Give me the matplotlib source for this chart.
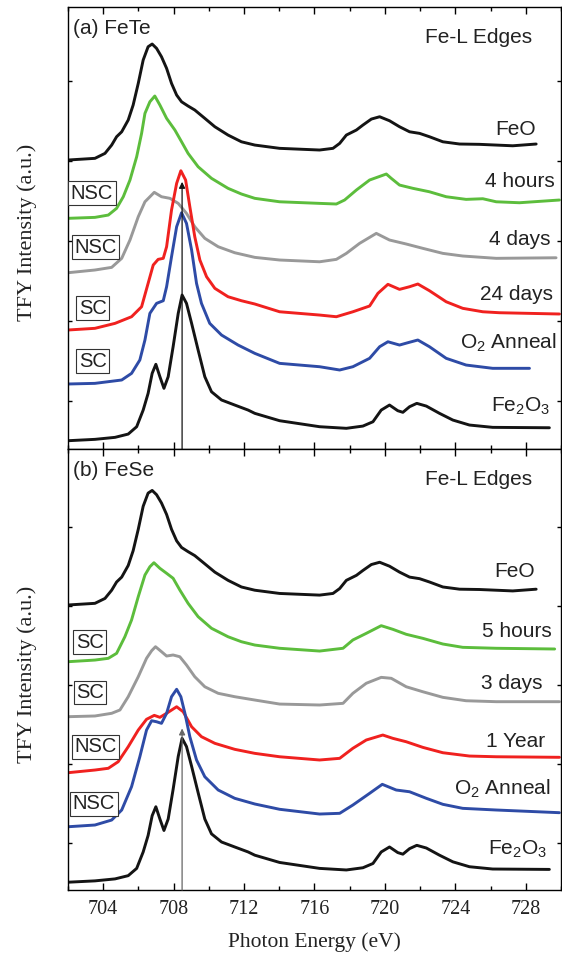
import matplotlib
matplotlib.use("Agg")
import matplotlib.pyplot as plt
from matplotlib.ticker import MultipleLocator, NullFormatter

# reference spectra (same in both panels)
feo_x = [702.00, 703.53, 704.10, 704.48, 704.76, 705.05, 705.42, 705.70, 705.99, 706.27,
         706.55, 706.78, 707.03, 707.31, 707.60, 707.88, 708.17, 708.45, 708.82, 709.20,
         709.77, 710.34, 711.09, 711.85, 712.61, 714.02, 716.29, 717.05, 717.43, 717.81,
         718.38, 718.75, 719.23, 719.70, 720.26, 720.83, 721.40, 721.97, 722.53, 723.29,
         724.24, 725.37, 727.26, 728.59]
feo_y = [30.13, 30.34, 30.96, 32.0, 33.04, 33.66, 35.13, 37.0, 39.71, 42.63,
         44.29, 44.63, 44.09, 43.04, 41.59, 39.71, 38.25, 37.41, 36.88, 36.38,
         35.34, 34.29, 33.25, 32.41, 32.0, 31.59, 31.38, 31.59, 32.21, 33.25,
         33.88, 34.5, 35.25, 35.54, 35.04, 34.29, 33.66, 33.46, 33.04, 32.41,
         32.13, 32.09, 31.91, 32.13]

fe2o3_x = [702.00, 703.53, 704.67, 705.42, 705.90, 706.27, 706.55, 706.78, 706.99, 707.22,
           707.45, 707.69, 707.97, 708.26, 708.48, 708.73, 709.02, 709.39, 709.77, 710.15,
           710.72, 711.47, 712.23, 712.61, 714.02, 716.29, 717.81, 718.75, 719.32, 719.79,
           720.26, 720.73, 721.02, 721.40, 721.81, 722.35, 723.10, 723.86, 724.80, 726.12,
           729.34]
fe2o3_y = [-4.96, -4.79, -4.54, -4.13, -3.21, -1.13, 0.96, 3.46, 4.59, 3.04,
           1.59, 3.04, 6.79, 10.96, 13.25, 12.21, 9.71, 6.38, 3.04, 1.16,
           0.13, -0.5, -1.13, -1.54, -2.46, -3.21, -3.41, -3.13, -2.59, -1.13,
           -0.5, -1.21, -1.41, -0.71, -0.29, -0.63, -1.54, -2.38, -3.0, -3.29,
           -3.34]

# (a) FeTe
a_4h_x = [702.00, 703.53, 704.29, 704.76, 705.14, 705.52, 705.90, 706.18, 706.37, 706.65,
          706.93, 707.22, 707.60, 708.07, 708.45, 708.82, 709.39, 710.15, 711.09, 711.85,
          712.61, 714.02, 716.29, 717.24, 717.71, 718.38, 719.13, 720.08, 720.36, 720.83,
          721.59, 722.53, 723.48, 724.61, 725.56, 726.32, 727.64, 729.91]
a_4h_y = [22.84, 22.96, 23.25, 24.09, 25.54, 27.63, 30.54, 33.46, 35.96, 37.41,
          38.13, 37.0, 35.34, 33.88, 32.41, 30.96, 29.29, 27.84, 26.59, 25.88,
          25.34, 24.91, 24.71, 24.63, 25.13, 26.38, 27.63, 28.38, 27.84, 27.0,
          26.59, 26.16, 25.54, 25.21, 25.29, 24.91, 24.79, 25.13]

a_4d_x = [702.00, 703.53, 704.48, 705.05, 705.52, 705.99, 706.37, 706.90, 707.31, 707.79,
          708.26, 708.73, 709.20, 709.77, 710.53, 711.47, 712.61, 714.02, 716.29, 717.24,
          717.81, 718.56, 719.51, 720.26, 721.21, 722.15, 723.29, 724.42, 726.32, 729.72]
a_4d_y = [16.04, 16.38, 16.71, 17.84, 20.13, 23.04, 24.91, 26.09, 25.54, 25.34,
          24.71, 23.46, 21.79, 20.34, 19.29, 18.54, 17.96, 17.63, 17.41, 17.71,
          18.46, 19.71, 20.96, 20.13, 19.63, 19.09, 18.46, 18.13, 17.84, 17.91]

a_24d_x = [702.00, 703.53, 704.67, 705.61, 706.18, 706.55, 706.84, 707.12, 707.41, 707.60,
           707.88, 708.17, 708.41, 708.68, 708.92, 709.20, 709.49, 709.87, 710.34, 711.09,
           711.85, 712.61, 714.02, 716.29, 717.24, 718.18, 719.13, 719.60, 720.17, 720.83,
           721.40, 721.87, 722.53, 723.48, 724.42, 725.56, 726.50, 729.91]
a_24d_y = [8.88, 9.09, 9.71, 10.54, 11.79, 14.71, 17.0, 17.71, 17.84, 19.29,
           23.88, 27.21, 28.79, 27.63, 24.29, 20.54, 17.63, 15.54, 14.09, 13.04,
           12.54, 12.13, 11.16, 10.75, 10.54, 11.16, 11.88, 13.46, 14.59, 13.96,
           14.29, 14.63, 13.79, 12.41, 11.59, 11.16, 11.04, 10.88]

a_o2_x = [702.00, 703.53, 705.05, 705.61, 706.08, 706.37, 706.65, 707.03, 707.41, 707.60,
          707.88, 708.17, 708.45, 708.73, 709.02, 709.30, 709.58, 710.05, 710.72, 711.66,
          712.61, 714.02, 716.29, 717.43, 718.18, 719.13, 719.70, 720.17, 720.83, 721.30,
          721.87, 722.53, 723.48, 724.61, 726.12, 728.21]
a_o2_y = [2.13, 2.21, 2.63, 3.46, 5.13, 7.63, 10.96, 12.21, 12.54, 14.29,
          18.04, 21.79, 23.54, 22.21, 18.88, 14.71, 12.21, 9.71, 8.25, 7.0,
          5.96, 4.71, 4.29, 3.88, 4.29, 5.34, 6.79, 7.41, 7.0, 7.29,
          7.63, 6.79, 5.34, 4.5, 4.09, 4.09]

# (b) FeSe
b_5h_x = [702.00, 703.53, 704.29, 704.76, 705.23, 705.61, 705.99, 706.37, 706.65, 706.88,
          707.22, 707.60, 707.97, 708.35, 708.82, 709.39, 710.15, 711.09, 711.85, 712.61,
          714.02, 716.29, 717.62, 718.18, 718.94, 719.79, 720.45, 721.21, 722.15, 723.29,
          724.42, 726.32, 729.64]
b_5h_y = [22.95, 23.16, 23.38, 24.01, 26.11, 28.23, 31.18, 33.92, 34.97, 35.48,
          34.77, 34.14, 33.51, 32.03, 30.34, 28.65, 27.18, 26.11, 25.48, 25.06,
          24.65, 24.30, 24.65, 25.70, 26.54, 27.51, 27.05, 26.42, 25.91, 25.19,
          24.77, 24.65, 24.56]

b_3d_x = [702.00, 703.53, 704.48, 704.95, 705.42, 705.99, 706.46, 706.75, 706.97, 707.31,
          707.60, 707.97, 708.35, 708.73, 709.20, 709.77, 710.53, 711.47, 712.61, 714.02,
          716.29, 717.62, 718.18, 718.94, 719.79, 720.36, 721.21, 722.15, 723.29, 724.61,
          726.32, 729.91]
b_3d_y = [15.99, 16.08, 16.42, 16.84, 18.52, 21.05, 23.38, 24.34, 24.85, 24.22,
          23.67, 23.80, 23.58, 22.53, 21.05, 19.78, 18.95, 18.52, 18.10, 17.59,
          17.47, 17.68, 18.95, 20.22, 20.97, 20.85, 19.78, 19.15, 18.44, 18.01,
          17.89, 17.89]

b_1y_x = [702.00, 703.53, 704.29, 704.85, 705.42, 705.99, 706.46, 706.90, 707.22, 707.60,
          708.17, 708.54, 709.02, 709.58, 710.34, 711.47, 712.61, 714.02, 716.29, 717.43,
          718.18, 718.94, 719.88, 720.45, 721.21, 722.15, 723.29, 724.80, 726.32, 729.91]
b_1y_y = [8.90, 9.24, 9.46, 10.29, 12.19, 14.30, 15.66, 16.16, 15.91, 16.42,
          17.25, 16.62, 14.72, 13.46, 12.62, 11.86, 11.35, 10.92, 10.51, 10.72,
          11.99, 13.04, 13.67, 13.25, 12.82, 12.11, 11.43, 11.01, 10.92, 10.85]

b_o2_x = [702.00, 703.53, 704.48, 705.05, 705.61, 706.08, 706.46, 706.75, 707.03, 707.31,
          707.60, 707.88, 708.17, 708.41, 708.64, 708.92, 709.30, 709.77, 710.53, 711.47,
          712.61, 714.02, 716.29, 717.43, 718.18, 719.13, 719.85, 720.64, 721.40, 722.35,
          723.29, 724.42, 726.32, 729.91]
b_o2_y = [2.06, 2.28, 2.91, 4.18, 7.13, 10.92, 14.30, 15.48, 15.35, 15.15,
          16.42, 18.52, 19.46, 18.52, 16.42, 13.46, 10.51, 8.39, 6.71, 5.66,
          4.94, 4.27, 3.67, 3.76, 4.81, 6.29, 7.43, 6.71, 6.49, 5.66,
          4.90, 4.39, 4.18, 3.84]

BLACK = "#141414"
GREEN = "#5cbd3c"
GRAY = "#999999"
RED = "#f0211f"
BLUE = "#2e4ba6"
TXT = "#222222"

SANS = "Liberation Sans"
SERIF = "Liberation Serif"

panel_a = [
    (feo_x, feo_y, BLACK, "FeO", 0.949, 0.710),
    (a_4h_x, a_4h_y, GREEN, "4 hours", 0.988, 0.592),
    (a_4d_x, a_4d_y, GRAY, "4 days", 0.978, 0.4615),
    (a_24d_x, a_24d_y, RED, "24 days", 0.984, 0.337),
    (a_o2_x, a_o2_y, BLUE, r"O$_2$ Anneal", 0.990, 0.228),
    (fe2o3_x, fe2o3_y, BLACK, r"Fe$_2$O$_3$", 0.978, 0.0844),
]
panel_b = [
    (feo_x, feo_y, BLACK, "FeO", 0.947, 0.709),
    (b_5h_x, b_5h_y, GREEN, "5 hours", 0.981, 0.574),
    (b_3d_x, b_3d_y, GRAY, "3 days", 0.963, 0.455),
    (b_1y_x, b_1y_y, RED, "1 Year", 0.968, 0.325),
    (b_o2_x, b_o2_y, BLUE, r"O$_2$ Anneal", 0.979, 0.217),
    (fe2o3_x, fe2o3_y, BLACK, r"Fe$_2$O$_3$", 0.971, 0.0794),
]
boxes_a = [("NSC", 0.0487, 0.579), ("NSC", 0.0554, 0.457), ("SC", 0.050, 0.319), ("SC", 0.050, 0.199)]
boxes_b = [("SC", 0.044, 0.562), ("SC", 0.0446, 0.448), ("NSC", 0.0562, 0.325), ("NSC", 0.0527, 0.196)]

plt.rcParams["mathtext.fontset"] = "custom"
plt.rcParams["mathtext.rm"] = SANS
plt.rcParams["mathtext.it"] = SANS

fig = plt.figure(figsize=(5.62, 9.56), dpi=100)
ax1 = fig.add_axes([0.121, 0.5303, 0.8772, 0.4623])
ax2 = fig.add_axes([0.121, 0.0690, 0.8772, 0.4613])


def setup(ax, curves, boxes, title, ylim, arrow_tip, arrow_color):
    for x, y, c, lab, tx, ty in curves:
        ax.plot(x, y, color=c, lw=2.1, solid_joinstyle="round", solid_capstyle="round")
        ax.text(tx, ty, lab, transform=ax.transAxes, ha="right", va="baseline",
                fontsize=15, family=SANS, color=TXT)
    for lab, bx, by in boxes:
        ax.text(bx, by, lab, transform=ax.transAxes, ha="center", va="center",
                fontsize=14.5, family=SANS, color=TXT,
                bbox=dict(boxstyle="square,pad=0.12", fc="white", ec="#333333", lw=0.8))
    ax.text(0.0095, 0.938, title, transform=ax.transAxes, ha="left", va="baseline",
            fontsize=15, family=SANS, color=TXT)
    ax.text(0.9406, 0.919, "Fe-L Edges", transform=ax.transAxes, ha="right",
            va="baseline", fontsize=15, family=SANS, color=TXT)
    ax.annotate("", xy=(708.48, arrow_tip), xytext=(708.48, ylim[0]),
                arrowprops=dict(arrowstyle="-|>", color=arrow_color, lw=0.9,
                                mutation_scale=9, shrinkA=0, shrinkB=0), zorder=5)
    ax.set_xlim(702, 730)
    ax.set_ylim(*ylim)
    ax.xaxis.set_major_locator(MultipleLocator(4))
    ax.xaxis.set_minor_locator(MultipleLocator(2))
    ax.yaxis.set_major_locator(MultipleLocator(10))
    ax.yaxis.set_major_formatter(NullFormatter())
    ax.tick_params(axis="both", which="both", direction="in", top=True, right=True, width=1.0)
    ax.tick_params(axis="x", which="major", length=5)
    ax.tick_params(axis="x", which="minor", length=3)
    ax.tick_params(axis="y", which="major", length=3)
    for s in ax.spines.values():
        s.set_linewidth(1.0)
    ax.set_ylabel("TFY Intensity (a.u.)", fontsize=16, family=SERIF, color=TXT)
    ax.yaxis.set_label_coords(-0.063, 0.49)


setup(ax1, panel_a, boxes_a, "(a) FeTe", (-6, 49.25), 27.4, BLACK)
setup(ax2, panel_b, boxes_b, "(b) FeSe", (-5.95, 49.87), 14.5, "#666666")

ax1.xaxis.set_major_formatter(NullFormatter())
for lab in ax2.get_xticklabels():
    lab.set_family(SERIF)
    lab.set_fontsize(14.5)
ax2.tick_params(axis="x", which="major", pad=7, labelcolor=TXT)
ax2.set_xlabel("Photon Energy (eV)", fontsize=15.5, family=SERIF, color=TXT, labelpad=10)

fig.savefig("out.png", dpi=100)
